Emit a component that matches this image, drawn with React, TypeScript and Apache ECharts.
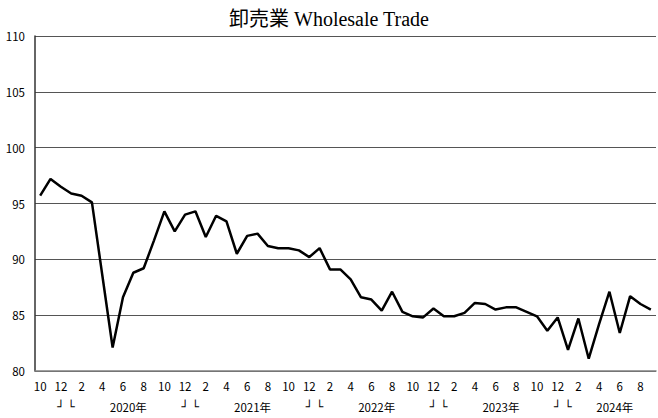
import React, { useEffect, useRef } from "react";
import * as echarts from "echarts";

const categories = [
  "2019-10", "2019-11", "2019-12",
  "2020-01", "2020-02", "2020-03", "2020-04", "2020-05", "2020-06", "2020-07", "2020-08", "2020-09", "2020-10", "2020-11", "2020-12",
  "2021-01", "2021-02", "2021-03", "2021-04", "2021-05", "2021-06", "2021-07", "2021-08", "2021-09", "2021-10", "2021-11", "2021-12",
  "2022-01", "2022-02", "2022-03", "2022-04", "2022-05", "2022-06", "2022-07", "2022-08", "2022-09", "2022-10", "2022-11", "2022-12",
  "2023-01", "2023-02", "2023-03", "2023-04", "2023-05", "2023-06", "2023-07", "2023-08", "2023-09", "2023-10", "2023-11", "2023-12",
  "2024-01", "2024-02", "2024-03", "2024-04", "2024-05", "2024-06", "2024-07", "2024-08", "2024-09",
];

const wholesaleValues = [
  95.7, 97.2, 96.5,
  95.9, 95.7, 95.1, 88.6, 82.1, 86.6, 88.8, 89.2, 91.7, 94.3, 92.5, 94.0,
  94.3, 92.0, 93.9, 93.4, 90.5, 92.1, 92.3, 91.2, 91.0, 91.0, 90.8, 90.2,
  91.0, 89.1, 89.1, 88.2, 86.6, 86.4, 85.4, 87.1, 85.3, 84.9, 84.8, 85.6,
  84.9, 84.9, 85.2, 86.1, 86.0, 85.5, 85.7, 85.7, 85.3, 84.9, 83.6, 84.8,
  81.9, 84.7, 81.1, 84.2, 87.1, 83.4, 86.7, 86.0, 85.5,
];

const yearEndMarks: Record<string, string> = {
  "2019-12": "┘", "2020-01": "└",
  "2020-12": "┘", "2021-01": "└",
  "2021-12": "┘", "2022-01": "└",
  "2022-12": "┘", "2023-01": "└",
  "2023-12": "┘", "2024-01": "└",
};

const yearLabels: Record<string, string> = {
  "2020-07": "2020年",
  "2021-07": "2021年",
  "2022-07": "2022年",
  "2023-07": "2023年",
  "2024-06": "2024年",
};

const titleText = "卸売業 Wholesale Trade";
const yMin = 80;
const yMax = 110;
const yStep = 5;

const labelFont = "'Noto Sans CJK JP', 'DejaVu Sans', sans-serif";

export default function App() {
  const ref = useRef<HTMLDivElement>(null);
  useEffect(() => {
    if (!ref.current) return;
    const chart = echarts.init(ref.current, undefined, { renderer: "svg" });
    chart.setOption({
      animation: false,
      backgroundColor: "#ffffff",
      title: {
        text: titleText,
        left: "center",
        top: 4,
        textStyle: {
          fontFamily: "'Liberation Serif', 'Noto Sans CJK JP', serif",
          fontSize: 20,
          fontWeight: "normal",
          color: "#000",
        },
      },
      grid: { left: 35, right: 2, top: 36, bottom: 47, containLabel: false },
      xAxis: [
        {
          type: "category",
          data: categories,
          boundaryGap: true,
          axisLine: { show: true, lineStyle: { color: "#808080", width: 1.5 } },
          axisTick: { show: false },
          axisLabel: {
            interval: 1,
            margin: 9,
            fontSize: 11.5,
            fontFamily: labelFont,
            color: "#000",
            formatter: (v: string) => String(parseInt(v.split("-")[1], 10)),
          },
          splitLine: { show: false },
        },
        {
          type: "category",
          data: categories,
          boundaryGap: true,
          position: "bottom",
          offset: 22,
          axisLine: { show: false },
          axisTick: { show: false },
          axisLabel: {
            interval: 0,
            margin: 8,
            fontSize: 11.5,
            fontFamily: labelFont,
            color: "#000",
            formatter: (v: string) => {
              if (yearLabels[v]) return "{y|" + yearLabels[v] + "}";
              if (yearEndMarks[v]) return "{b|" + yearEndMarks[v] + "}";
              return "";
            },
            rich: {
              y: {
                fontSize: 11.5,
                fontFamily: labelFont,
                color: "#000",
                padding: [0, 10, 0, 0],
              },
              b: {
                fontSize: 12,
                fontFamily: "'DejaVu Sans', sans-serif",
                fontWeight: "bold",
                color: "#000",
              },
            },
          },
          splitLine: { show: false },
        },
      ],
      yAxis: {
        type: "value",
        min: yMin,
        max: yMax,
        interval: yStep,
        axisLine: { show: true, lineStyle: { color: "#333", width: 1.5 } },
        axisTick: { show: false },
        axisLabel: {
          margin: 10,
          fontSize: 11.5,
          fontFamily: labelFont,
          color: "#000",
        },
        splitLine: { show: true, lineStyle: { color: "#555", width: 1.2 } },
      },
      series: [
        {
          type: "line",
          data: wholesaleValues,
          xAxisIndex: 0,
          showSymbol: false,
          symbol: "none",
          lineStyle: { color: "#000", width: 2.5 },
        },
      ],
    });
    return () => chart.dispose();
  }, []);
  return <div ref={ref} style={{ width: 658, height: 418, position: "absolute", left: 0, top: 0 }} />;
}
